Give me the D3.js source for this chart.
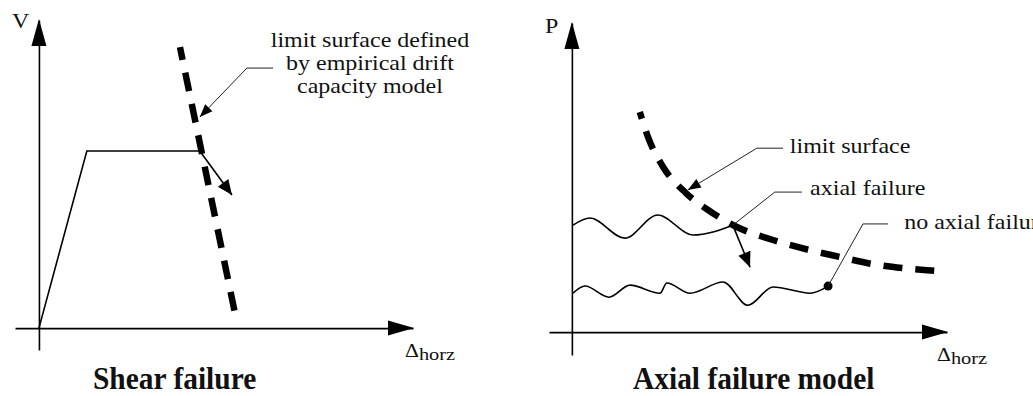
<!DOCTYPE html>
<html>
<head>
<meta charset="utf-8">
<script src="https://cdn.jsdelivr.net/npm/d3@7"></script>
<style>
  html, body { margin: 0; padding: 0; background: #fff; }
  svg { display: block; }
  text { font-family: "Liberation Serif", "Times New Roman", serif; fill: #111; }
</style>
</head>
<body>
<svg id="chart" width="1033" height="396"></svg>
<script>
// ---- Shear panel: shear force V against horizontal drift ----
const shearBackbone      = [[0, 0], [1.28, 5.75], [4.30, 5.75]];
const shearDegradation   = [[4.30, 5.75], [5.16, 4.32]];
const driftCapacityLimit = [[3.77, 9.12], [5.24, 0.49]];
const shearLeader        = [[4.30, 6.85], [5.56, 8.44], [6.26, 8.44]];
const shearNoteLines     = ["limit surface defined", "by empirical drift", "capacity model"];
const shearNoteAt        = [8.85, 9.12];

// ---- Axial panel: axial load P against horizontal drift ----
const axialLimit = [[1.81, 7.12], [2.03, 6.31], [2.45, 5.31], [3.04, 4.50], [3.63, 3.95],
                    [4.40, 3.40], [5.36, 2.98], [6.35, 2.65], [7.15, 2.43], [8.03, 2.20],
                    [8.83, 2.07], [9.87, 1.97]];
const failingPath   = [[0.03, 3.46], [0.48, 3.69], [1.41, 3.04], [2.29, 3.79], [3.23, 3.14], [4.29, 3.46]];
const failingDrop   = [[4.29, 3.46], [4.75, 2.10]];
const survivingPath = [[0.03, 1.26], [0.35, 1.49], [0.99, 1.13], [1.55, 1.52], [2.35, 1.26],
                       [2.53, 1.59], [3.15, 1.26], [4.03, 1.62], [4.69, 0.87], [5.36, 1.46],
                       [6.35, 1.26], [6.83, 1.49]];
const limitLeader   = [[3.09, 4.60], [4.93, 5.95], [5.63, 5.95]];
const failLeader    = [[4.29, 3.46], [5.41, 4.53], [6.13, 4.53]];
const surviveLeader = [[6.83, 1.49], [7.76, 3.50], [8.43, 3.50]];
const axialNotes    = [
  { text: "limit surface",    at: [5.81, 5.79] },
  { text: "axial failure",    at: [6.35, 4.43] },
  { text: "no axial failure", at: [8.86, 3.32] }
];

// ---- scales (drift / force units to pixels) ----
const shear = {
  x: d3.scaleLinear().domain([-0.64, 10]).range([15, 413]),
  y: d3.scaleLinear().domain([-0.71, 10]).range([350, 20])
};
const axial = {
  x: d3.scaleLinear().domain([-0.61, 10]).range([549, 947]),
  y: d3.scaleLinear().domain([-0.74, 10]).range([355, 23])
};

const svg = d3.select("#chart");

function px(s, p) { return [s.x(p[0]), s.y(p[1])]; }

// filled triangular arrow head pointing from -> to (pixel space)
function arrowHead(g, from, to, len, half) {
  const dx = to[0] - from[0], dy = to[1] - from[1], d = Math.hypot(dx, dy);
  const ux = dx / d, uy = dy / d;
  const bx = to[0] - ux * len, by = to[1] - uy * len;
  const pts = [to, [bx - uy * half, by + ux * half], [bx + uy * half, by - ux * half]];
  g.append("path").attr("d", "M" + pts.map(p => p.join(",")).join("L") + "Z").attr("fill", "#000");
}

function label(g, x, y, str, o = {}) {
  return g.append("text")
    .attr("transform", `translate(${x},${y}) scale(${o.sx || 1.2},1)`)
    .attr("font-size", o.size || 20)
    .attr("font-weight", o.weight || "normal")
    .attr("text-anchor", o.anchor || "start")
    .text(str);
}

function drawAxes(g, s, yName, yNamePos, dLabelPos) {
  const xAxis = d3.axisBottom(s.x).tickValues([]).tickSizeOuter(0);
  const yAxis = d3.axisLeft(s.y).tickValues([]).tickSizeOuter(0);
  g.append("g").attr("transform", `translate(0,${s.y(0)})`).call(xAxis)
    .call(a => a.select(".domain").attr("stroke", "#000").attr("stroke-width", 1.6));
  g.append("g").attr("transform", `translate(${s.x(0)},0)`).call(yAxis)
    .call(a => a.select(".domain").attr("stroke", "#000").attr("stroke-width", 1.6));
  const [x0, x1] = s.x.range(), [y0, y1] = s.y.range();
  arrowHead(g, [x0, s.y(0)], [x1 + 1, s.y(0)], 26, 7.5);
  arrowHead(g, [s.x(0), y0], [s.x(0), y1 - 1], 27, 7.5);
  label(g, yNamePos[0], yNamePos[1], yName);
  const t = g.append("text")
    .attr("transform", `translate(${dLabelPos[0]},${dLabelPos[1]}) scale(1.2,1)`);
  t.append("tspan").attr("font-size", 18).text("\u0394");
  t.append("tspan").attr("font-size", 17).attr("dy", 3).text("horz");
}

const solid  = d3.line();
const smooth = d3.line().curve(d3.curveMonotoneX);

// ================= Shear failure =================
{
  const s = shear, g = svg.append("g");
  drawAxes(g, s, "V", [12, 28], [405, 357]);

  g.append("path").attr("d", solid(shearBackbone.map(p => px(s, p))))
    .attr("fill", "none").attr("stroke", "#000").attr("stroke-width", 1.6);
  const deg = shearDegradation.map(p => px(s, p));
  g.append("path").attr("d", solid(deg)).attr("fill", "none").attr("stroke", "#000").attr("stroke-width", 1.6);
  arrowHead(g, deg[0], deg[1], 15, 6.5);

  g.append("path").attr("d", solid(driftCapacityLimit.map(p => px(s, p))))
    .attr("fill", "none").attr("stroke", "#000").attr("stroke-width", 6.5)
    .attr("stroke-dasharray", "19,13").attr("stroke-dashoffset", 6);

  const ld = shearLeader.map(p => px(s, p));
  g.append("path").attr("d", solid(ld)).attr("fill", "none").attr("stroke", "#222").attr("stroke-width", 1);
  arrowHead(g, ld[1], ld[0], 13, 5);

  shearNoteLines.forEach((line, i) => {
    label(g, s.x(shearNoteAt[0]), s.y(shearNoteAt[1]) + i * 23, line, { anchor: "middle" });
  });

  label(g, 93, 389, "Shear failure", { size: 32, weight: "bold", sx: 0.92 });
}

// ================= Axial failure model =================
{
  const s = axial, g = svg.append("g");
  drawAxes(g, s, "P", [545, 33], [937, 361]);

  g.append("path").attr("d", smooth(axialLimit.map(p => px(s, p))))
    .attr("fill", "none").attr("stroke", "#000").attr("stroke-width", 6.5)
    .attr("stroke-dasharray", "19,13").attr("stroke-dashoffset", 12);

  g.append("path").attr("d", smooth(failingPath.map(p => px(s, p))))
    .attr("fill", "none").attr("stroke", "#000").attr("stroke-width", 1.6);
  const drop = failingDrop.map(p => px(s, p));
  g.append("path").attr("d", solid(drop)).attr("fill", "none").attr("stroke", "#000").attr("stroke-width", 1.6);
  arrowHead(g, drop[0], drop[1], 15, 6.5);

  g.append("path").attr("d", smooth(survivingPath.map(p => px(s, p))))
    .attr("fill", "none").attr("stroke", "#000").attr("stroke-width", 1.6);
  const last = px(s, survivingPath[survivingPath.length - 1]);
  g.append("circle").attr("cx", last[0]).attr("cy", last[1]).attr("r", 4.5).attr("fill", "#000");

  [limitLeader, failLeader, surviveLeader].forEach((leader, i) => {
    const ld = leader.map(p => px(s, p));
    g.append("path").attr("d", solid(ld)).attr("fill", "none").attr("stroke", "#222").attr("stroke-width", 1);
    if (i === 0) arrowHead(g, ld[1], ld[0], 13, 5);
  });
  axialNotes.forEach(n => label(g, s.x(n.at[0]), s.y(n.at[1]), n.text));

  label(g, 633, 389, "Axial failure model", { size: 32, weight: "bold", sx: 0.92 });
}
</script>
</body>
</html>
